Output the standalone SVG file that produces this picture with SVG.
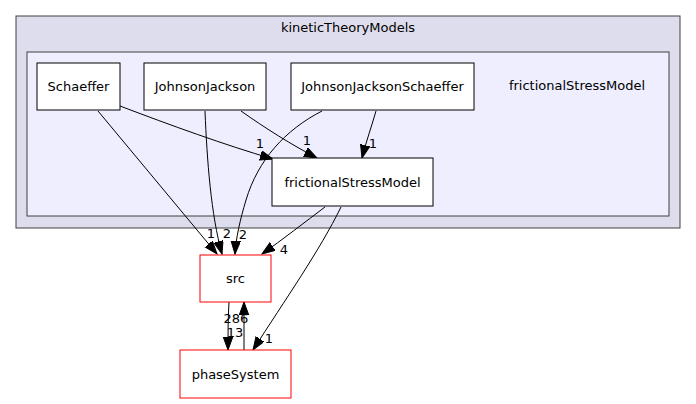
<svg xmlns="http://www.w3.org/2000/svg" width="696" height="404" viewBox="0 0 696 404">
<style>
text{font-family:"DejaVu Sans",sans-serif;font-size:13px;fill:#000}
.c{text-anchor:middle}
.n{fill:#fff;stroke:#000;stroke-width:1}
.r{fill:#fff;stroke:#ff0000;stroke-width:1}
.e{fill:none;stroke:#000;stroke-width:1}
</style>
<defs>
<marker id="a" markerUnits="userSpaceOnUse" markerWidth="15" markerHeight="11" refX="13" refY="4.75" orient="auto">
<path d="M0,0 L13,4.75 L0,9.5 z" fill="#000" stroke="#000" stroke-width="1"/>
</marker>
</defs>
<g id="cluster_kineticTheoryModels">
<rect x="16" y="16" width="664" height="212" fill="#ddddee" stroke="#404040" stroke-width="1"/>
<text class="c" x="348" y="32">kineticTheoryModels</text>
</g>
<g id="cluster_frictionalStressModel">
<rect x="27" y="52" width="642" height="164" fill="#eeeeff" stroke="#404040" stroke-width="1"/>
<text class="c" x="577" y="90">frictionalStressModel</text>
</g>
<g id="edges">
<path class="e" marker-end="url(#a)" d="M98,111 L217,254"/>
<text class="c" x="211" y="238">1</text>
<path class="e" marker-end="url(#a)" d="M205,111 C207,160 211,215 222,254"/>
<text class="c" x="227" y="238">2</text>
<path class="e" marker-end="url(#a)" d="M322,111 C285,130 258,160 246,200 C240,220 236,238 235,254"/>
<text class="c" x="243" y="239">2</text>
<path class="e" marker-end="url(#a)" d="M120,106 C170,125 225,145 273,159"/>
<text class="c" x="260" y="148">1</text>
<path class="e" marker-end="url(#a)" d="M241,111 C265,128 292,145 317,158"/>
<text class="c" x="307" y="145">1</text>
<path class="e" marker-end="url(#a)" d="M376,111 C372,125 366,142 362,158"/>
<text class="c" x="373" y="148">1</text>
<path class="e" marker-end="url(#a)" d="M325,207 C305,222 282,240 262,254"/>
<text class="c" x="284" y="254">4</text>
<path class="e" marker-end="url(#a)" d="M341,207 C320,250 285,300 253,350"/>
<text class="c" x="269" y="343">1</text>
<path class="e" marker-end="url(#a)" d="M229,302 C228,318 228,334 228,350"/>
<text class="c" x="235" y="337">13</text>
<path class="e" marker-end="url(#a)" d="M244,350 C244,334 244,318 244,302"/>
<text class="c" x="236" y="323">286</text>
</g>
<g id="node_Schaeffer">
<rect class="n" x="37" y="63" width="83" height="47"/>
<text class="c" x="78.5" y="91">Schaeffer</text>
</g>
<g id="node_JohnsonJackson">
<rect class="n" x="144" y="63" width="122" height="47"/>
<text class="c" x="205" y="91">JohnsonJackson</text>
</g>
<g id="node_JohnsonJacksonSchaeffer">
<rect class="n" x="291" y="63" width="183" height="47"/>
<text class="c" x="382.5" y="91">JohnsonJacksonSchaeffer</text>
</g>
<g id="node_frictionalStressModel">
<rect class="n" x="272" y="158" width="161" height="48"/>
<text class="c" x="352.5" y="187">frictionalStressModel</text>
</g>
<g id="node_src">
<rect class="r" x="200" y="255" width="71" height="47"/>
<text class="c" x="235.5" y="283">src</text>
</g>
<g id="node_phaseSystem">
<rect class="r" x="180" y="350" width="111" height="48"/>
<text class="c" x="235.5" y="379">phaseSystem</text>
</g>
</svg>
